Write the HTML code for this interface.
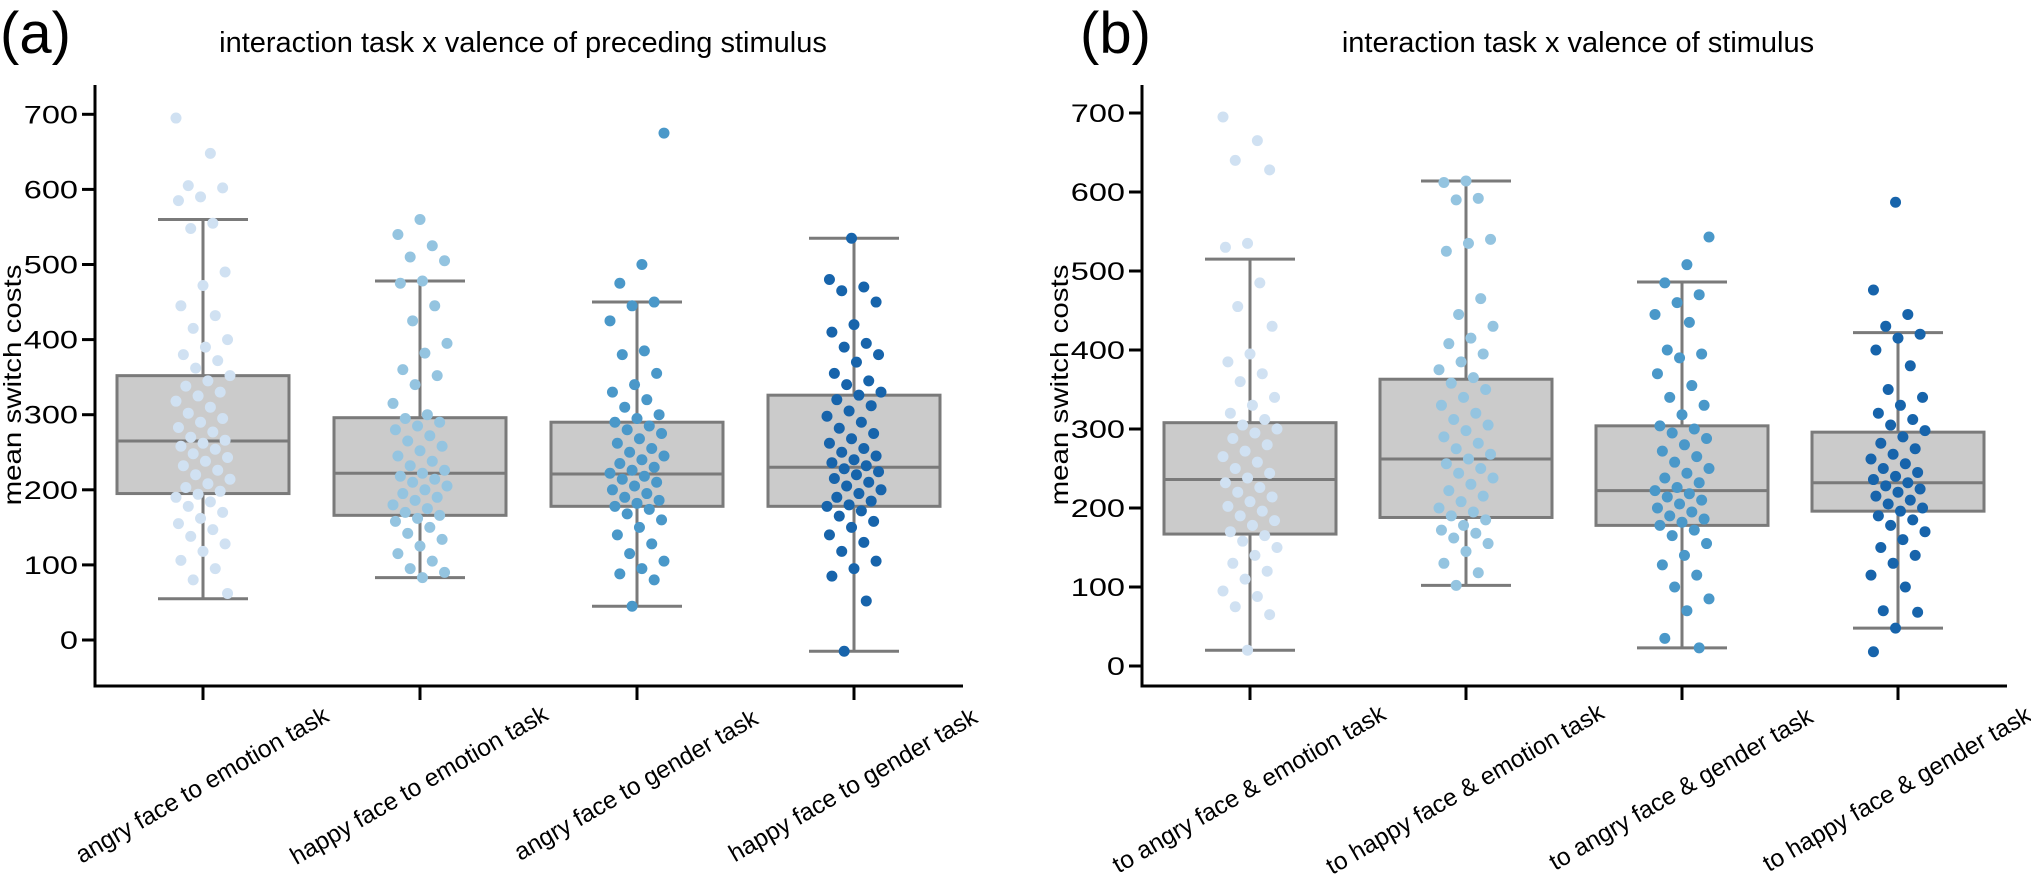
<!DOCTYPE html>
<html><head><meta charset="utf-8"><style>
html,body{margin:0;padding:0;background:#fff;}
svg{display:block;font-family:"Liberation Sans",Arial,sans-serif;}
</style></head><body>
<svg id="chart" width="2031" height="878" viewBox="0 0 2031 878" xmlns="http://www.w3.org/2000/svg"></svg>
<script>
const NS="http://www.w3.org/2000/svg";
// ---- data ----
const catsA=["angry face to emotion task","happy face to emotion task","angry face to gender task","happy face to gender task"];
const catsB=["to angry face & emotion task","to happy face & emotion task","to angry face & gender task","to happy face & gender task"];
const yTicks=[0,100,200,300,400,500,600,700];
const colors=["#d0e1f2","#94c4e0","#4a98c9","#1764ab"];
// box stats: [whiskerLow, q1, median, q3, whiskerHigh]
const statsA=[[55,195,265,352,560],[83,166,222,296,478],[45,178,221,290,450],[-15,178,230,326,535]];
const statsB=[[20,167,236,308,515],[102,188,262,363,614],[23,178,222,304,486],[48,196,232,296,422]];
const ptsA1=[695,648,605,602,590,585,555,548,490,472,445,432,415,400,390,380,372,362,352,345,338,330,325,318,310,302,295,290,283,277,270,266,262,258,254,248,243,238,232,226,220,214,208,203,198,194,190,184,178,170,162,155,147,138,128,118,106,95,80,62];
const ptsA2=[560,540,525,510,505,478,475,445,425,395,382,360,352,340,315,300,295,290,285,280,272,265,258,252,245,238,232,226,222,218,214,210,205,200,195,190,186,180,175,170,166,162,158,150,142,134,125,115,105,95,90,83];
const ptsA3=[675,500,475,450,445,425,385,380,355,340,330,320,310,300,295,290,285,280,275,268,262,255,250,245,240,235,230,226,222,218,214,210,205,200,195,190,186,182,178,174,168,160,150,140,128,115,105,95,88,80,45];
const ptsA4=[535,480,470,465,450,420,410,395,390,380,370,355,345,340,330,326,320,312,305,298,290,282,275,268,262,255,250,245,240,236,232,228,224,220,215,210,205,200,195,190,185,180,178,172,165,158,150,140,130,118,105,95,85,52,-15];
const ptsB1=[695,665,640,628,535,530,485,455,430,395,385,370,360,340,330,320,312,305,300,295,288,280,272,265,258,250,244,238,232,226,220,214,208,202,196,190,184,178,170,165,158,150,140,130,120,110,95,88,75,65,20];
const ptsB2=[614,612,592,590,540,535,525,465,445,430,415,408,395,385,375,365,358,350,340,330,320,312,305,298,290,282,275,268,262,256,250,244,238,230,222,215,208,200,195,190,185,178,172,168,162,155,145,130,118,102];
const ptsB3=[543,508,485,470,460,445,435,400,395,390,370,355,340,330,318,304,300,295,288,280,272,265,258,250,244,238,232,226,222,218,214,210,205,200,195,190,186,182,178,172,165,155,140,128,115,100,85,70,35,23];
const ptsB4=[587,476,445,430,420,415,400,380,350,340,330,320,312,305,298,290,282,275,268,262,256,250,245,240,236,232,228,224,220,215,210,205,200,196,190,185,178,170,160,150,140,130,115,100,70,68,48,18];

const svg=document.getElementById('chart');
function mk(tag,attrs,parent,text){const e=document.createElementNS(NS,tag);for(const k in attrs)e.setAttribute(k,attrs[k]);if(text!==undefined)e.textContent=text;(parent||svg).appendChild(e);return e;}

function panel(cfg){
  const g=mk('g',{});
  
  
  const y=v=>cfg.y0-v*cfg.k;
  const x=i=>cfg.cx0+i*cfg.dx;
  const l=mk('text',{x:cfg.letterX,y:53,'font-size':58},g,cfg.letter);
  
  
  const t=mk('text',{x:cfg.titleX,y:52,'font-size':29,'text-anchor':'middle'},g,cfg.title);
  
  
  const ya=mk('line',{x1:cfg.sx,y1:85,x2:cfg.sx,y2:687.5,stroke:'#000','stroke-width':3},g);
  
  
  const xa=mk('line',{x1:cfg.sx-1.5,y1:686,x2:cfg.ex,y2:686,stroke:'#000','stroke-width':3},g);
  
  
  yTicks.forEach(v=>{
    const tk=mk('line',{x1:cfg.sx-13,y1:y(v),x2:cfg.sx,y2:y(v),stroke:'#000','stroke-width':3},g);
    
    
    const tl=mk('text',{x:0,y:0,'font-size':25,'text-anchor':'end',transform:`translate(${cfg.sx-17},${y(v)+9}) scale(1.3,1)`},g,String(v));
    
    
  });
  const yl=mk('text',{x:0,y:0,'font-size':25,'text-anchor':'middle',transform:`translate(${cfg.ylX},${cfg.ylY}) rotate(-90) scale(1.18,1)`},g,'mean switch costs');
  
  
  cfg.cats.forEach((c,i)=>{
    const tk=mk('line',{x1:x(i),y1:686,x2:x(i),y2:700,stroke:'#000','stroke-width':3},g);
    
    
    const tl=mk('text',{x:0,y:0,'font-size':24.5,'text-anchor':'middle',transform:`translate(${x(i)+3},${cfg.lblY}) rotate(-30)`},g,c);
    
    
  });
  cfg.stats.forEach((s,i)=>{
    const cx=x(i),hw=86,cw=45;
    const bg=mk('g',{stroke:'#7a7a7a','stroke-width':3,fill:'none'},g);
    
    
    mk('line',{x1:cx,y1:y(s[0]),x2:cx,y2:y(s[1])},bg);
    mk('line',{x1:cx,y1:y(s[3]),x2:cx,y2:y(s[4])},bg);
    mk('line',{x1:cx-cw,y1:y(s[0]),x2:cx+cw,y2:y(s[0])},bg);
    mk('line',{x1:cx-cw,y1:y(s[4]),x2:cx+cw,y2:y(s[4])},bg);
    mk('rect',{x:cx-hw,y:y(s[3]),width:2*hw,height:y(s[1])-y(s[3]),fill:'#cbcbcb'},bg);
    mk('line',{x1:cx-hw,y1:y(s[2]),x2:cx+hw,y2:y(s[2])},bg);
  });
  cfg.pts.forEach((arr,i)=>{
    const pg=mk('g',{fill:colors[i]},g);
    
    
    arr.forEach((v,j)=>{
      const jit=(((j*37+i*11)%23)/22-0.5)*54;
      const c=mk('circle',{cx:x(i)+jit,cy:y(v),r:5.5},pg);
      
      
    });
  });
}
panel({name:'panel-a',letter:'(a)',letterX:0,title:'interaction task x valence of preceding stimulus',titleX:523,
  sx:95,ex:963,y0:640,k:0.751,cx0:203,dx:217,cats:catsA,stats:statsA,pts:[ptsA1,ptsA2,ptsA3,ptsA4],ylX:21,ylY:385,lblY:792});
panel({name:'panel-b',letter:'(b)',letterX:1080,title:'interaction task x valence of stimulus',titleX:1578,
  sx:1142,ex:2007,y0:666,k:0.79,cx0:1250,dx:216,cats:catsB,stats:statsB,pts:[ptsB1,ptsB2,ptsB3,ptsB4],ylX:1068,ylY:385,lblY:796});
</script>
</body></html>
